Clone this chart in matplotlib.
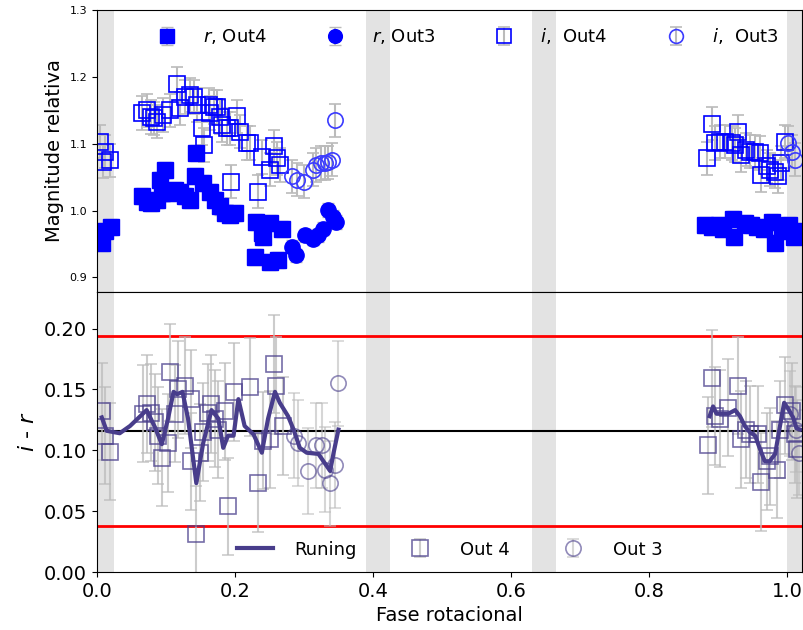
import matplotlib
matplotlib.use("Agg")
import matplotlib.pyplot as plt
import numpy as np

# ---- top panel: relative magnitudes ----
ph_r4 = [0.004, 0.008, 0.012, 0.020, 0.065, 0.072, 0.079, 0.087, 0.091, 0.099, 0.094,
         0.106, 0.113, 0.120, 0.128, 0.135, 0.142, 0.144, 0.154, 0.164, 0.171, 0.178,
         0.186, 0.193, 0.200, 0.231, 0.239, 0.241, 0.251, 0.268, 0.229, 0.251, 0.263,
         0.881, 0.891, 0.901, 0.908, 0.922, 0.924, 0.939, 0.948, 0.957, 0.967, 0.979,
         0.983, 0.993, 1.003, 1.010, 1.012]
mag_r4 = [0.965, 0.952, 0.970, 0.975, 1.021, 1.013, 1.011, 1.016, 1.046, 1.061, 1.026,
          1.026, 1.031, 1.028, 1.021, 1.016, 1.051, 1.086, 1.041, 1.028, 1.016, 1.006,
          0.996, 0.993, 0.996, 0.983, 0.966, 0.961, 0.981, 0.973, 0.931, 0.923, 0.926,
          0.978, 0.975, 0.978, 0.973, 0.988, 0.961, 0.981, 0.978, 0.975, 0.973, 0.983,
          0.951, 0.970, 0.978, 0.961, 0.970]

ph_r3 = [0.282, 0.289, 0.301, 0.313, 0.321, 0.328, 0.335, 0.342, 0.347]
mag_r3 = [0.946, 0.933, 0.963, 0.958, 0.963, 0.973, 1.001, 0.991, 0.983]

ph_i4 = [0.004, 0.012, 0.009, 0.019, 0.065, 0.072, 0.082, 0.079, 0.087, 0.096, 0.106,
         0.116, 0.121, 0.128, 0.135, 0.140, 0.145, 0.152, 0.155, 0.162, 0.164, 0.169,
         0.174, 0.179, 0.181, 0.188, 0.193, 0.203, 0.195, 0.208, 0.218, 0.222, 0.233,
         0.239, 0.251, 0.256, 0.261, 0.266,
         0.891, 0.884, 0.896, 0.903, 0.910, 0.920, 0.929, 0.925, 0.934, 0.941, 0.946,
         0.954, 0.961, 0.963, 0.971, 0.975, 0.983, 0.987, 0.992, 0.997]
mag_i4 = [1.103, 1.088, 1.073, 1.075, 1.146, 1.150, 1.138, 1.140, 1.133, 1.143, 1.150,
          1.190, 1.153, 1.170, 1.173, 1.170, 1.158, 1.123, 1.098, 1.158, 1.146, 1.155,
          1.155, 1.140, 1.128, 1.123, 1.123, 1.141, 1.043, 1.118, 1.101, 1.101, 1.028,
          1.080, 1.061, 1.096, 1.078, 1.068,
          1.130, 1.078, 1.101, 1.103, 1.103, 1.101, 1.118, 1.098, 1.083, 1.091, 1.088,
          1.088, 1.086, 1.053, 1.066, 1.061, 1.058, 1.051, 1.071, 1.103]

ph_i3 = [0.283, 0.290, 0.300, 0.313, 0.318, 0.325, 0.330, 0.335, 0.340, 0.345,
         1.002, 1.007, 1.012]
mag_i3 = [1.051, 1.046, 1.043, 1.061, 1.068, 1.071, 1.071, 1.072, 1.076, 1.135,
          1.101, 1.088, 1.076]

# ---- bottom panel: i - r colour ----
ph_c4 = [0.007, 0.012, 0.019, 0.067, 0.072, 0.079, 0.084, 0.089, 0.094, 0.103, 0.106,
         0.113, 0.118, 0.128, 0.137, 0.137, 0.144, 0.149, 0.154, 0.161, 0.166, 0.171,
         0.176, 0.186, 0.190, 0.198, 0.222, 0.234, 0.241, 0.251, 0.256, 0.260, 0.270,
         0.886, 0.891, 0.896, 0.903, 0.915, 0.929, 0.934, 0.941, 0.946, 0.958, 0.963,
         0.971, 0.975, 0.985, 0.990, 0.997, 1.007, 1.012, 1.014]
col_c4 = [0.132, 0.112, 0.099, 0.130, 0.138, 0.131, 0.123, 0.112, 0.094, 0.106, 0.164,
          0.130, 0.150, 0.153, 0.142, 0.091, 0.031, 0.098, 0.115, 0.131, 0.138, 0.126,
          0.117, 0.132, 0.054, 0.148, 0.152, 0.073, 0.108, 0.109, 0.171, 0.153, 0.120,
          0.104, 0.159, 0.128, 0.126, 0.135, 0.153, 0.109, 0.117, 0.113, 0.113, 0.074,
          0.091, 0.095, 0.084, 0.117, 0.137, 0.132, 0.113, 0.101]

ph_c3 = [0.285, 0.292, 0.306, 0.318, 0.326, 0.330, 0.338, 0.345, 0.350,
         1.005, 1.013, 1.018]
col_c3 = [0.112, 0.106, 0.083, 0.104, 0.104, 0.084, 0.073, 0.088, 0.155,
          0.130, 0.117, 0.098]

# running mean
ph_run1 = [0.007, 0.014, 0.033, 0.048, 0.072, 0.084, 0.094, 0.103, 0.111, 0.116, 0.124,
           0.132, 0.144, 0.154, 0.166, 0.176, 0.183, 0.190, 0.198, 0.205, 0.214, 0.227,
           0.239, 0.248, 0.258, 0.265, 0.277, 0.285, 0.294, 0.304, 0.321, 0.338, 0.343,
           0.350]
col_run1 = [0.127, 0.116, 0.114, 0.120, 0.133, 0.119, 0.105, 0.126, 0.148, 0.146, 0.148,
            0.126, 0.073, 0.106, 0.133, 0.126, 0.102, 0.112, 0.112, 0.142, 0.120, 0.113,
            0.098, 0.126, 0.148, 0.139, 0.128, 0.117, 0.102, 0.098, 0.097, 0.083, 0.098,
            0.117]
ph_run2 = [0.888, 0.893, 0.898, 0.905, 0.915, 0.925, 0.932, 0.939, 0.946, 0.954, 0.961,
           0.968, 0.975, 0.983, 0.990, 0.996, 1.002, 1.009, 1.014, 1.019]
col_run2 = [0.128, 0.136, 0.130, 0.130, 0.130, 0.133, 0.128, 0.120, 0.115, 0.112, 0.101,
            0.091, 0.091, 0.097, 0.120, 0.139, 0.134, 0.127, 0.118, 0.117]

err_r4, err_r3, err_i4, err_i3 = 0.012, 0.010, 0.025, 0.025
err_c4, err_c3 = 0.040, 0.035

bands = [(0.0, 0.025), (0.39, 0.425), (0.63, 0.665), (1.0, 1.025)]
col_mean, col_lo, col_hi = 0.116, 0.038, 0.194

ecol = "#bbbbbb"
purple = "#483D8B"

fig = plt.figure(figsize=(8.04, 6.30), dpi=100)
ax1 = fig.add_axes([0.1206, 0.5365, 0.877, 0.4475])
ax2 = fig.add_axes([0.1206, 0.092, 0.877, 0.4445], sharex=ax1)

for a in (ax1, ax2):
    for lo, hi in bands:
        a.axvspan(lo, hi, color="#e3e3e3", lw=0, zorder=0)

ax1.errorbar(ph_r4, mag_r4, yerr=err_r4, fmt="s", color="b", ms=11, ecolor=ecol,
             capsize=4, label="$r$, Out4")
ax1.errorbar(ph_r3, mag_r3, yerr=err_r3, fmt="o", color="b", ms=11, ecolor=ecol,
             capsize=4, label="$r$, Out3")
ax1.errorbar(ph_i4, mag_i4, yerr=err_i4, fmt="s", mfc="none", mec="b", ms=11,
             mew=1.2, ecolor=ecol, capsize=4, label="$i$,  Out4")
ax1.errorbar(ph_i3, mag_i3, yerr=err_i3, fmt="o", mfc="none", mec="#3b3bff", ms=11,
             mew=1.2, ecolor=ecol, capsize=4, label="$i$,  Out3")
ax1.set_ylim(0.878, 1.3)
ax1.set_yticks([0.9, 1.0, 1.1, 1.2, 1.3])
ax1.tick_params(axis="y", labelsize=8)
ax1.tick_params(axis="x", labelbottom=False, bottom=False)
ax1.set_ylabel("Magnitude relativa", fontsize=14)
h, l = ax1.get_legend_handles_labels()
ax1.legend(h, l, loc="upper center", ncol=4, frameon=False, fontsize=13,
           handletextpad=1.0, columnspacing=2.8, markerscale=0.9,
           bbox_to_anchor=(0.52, 1.0))

ax2.axhline(col_hi, color="red", lw=2)
ax2.axhline(col_lo, color="red", lw=2)
ax2.axhline(col_mean, color="black", lw=1.5)
ax2.plot(ph_run1, col_run1, color=purple, lw=3, label="Runing", zorder=5)
ax2.plot(ph_run2, col_run2, color=purple, lw=3, zorder=5)
ax2.errorbar(ph_c4, col_c4, yerr=err_c4, fmt="s", mfc="none", mec=purple, ms=11,
             mew=1.2, alpha=0.75, ecolor=ecol, capsize=4, label="Out 4")
ax2.errorbar(ph_c3, col_c3, yerr=err_c3, fmt="o", mfc="none", mec=purple, ms=11,
             mew=1.2, alpha=0.6, ecolor=ecol, capsize=4, label="Out 3")
ax2.set_ylim(0, 0.23)
ax2.set_yticks([0.0, 0.05, 0.10, 0.15, 0.20])
ax2.set_yticklabels(["0.00", "0.05", "0.10", "0.15", "0.20"])
ax2.set_xlim(0, 1.022)
ax2.set_xticks([0.0, 0.2, 0.4, 0.6, 0.8, 1.0])
ax2.tick_params(labelsize=14)
ax2.set_ylabel("$i$ - $r$", fontsize=16)
ax2.set_xlabel("Fase rotacional", fontsize=14)
ax2.legend(loc="lower center", ncol=3, frameon=False, fontsize=13,
           handletextpad=1.2, columnspacing=2.5, bbox_to_anchor=(0.5, -0.01))

fig.savefig("out.png", dpi=100)
